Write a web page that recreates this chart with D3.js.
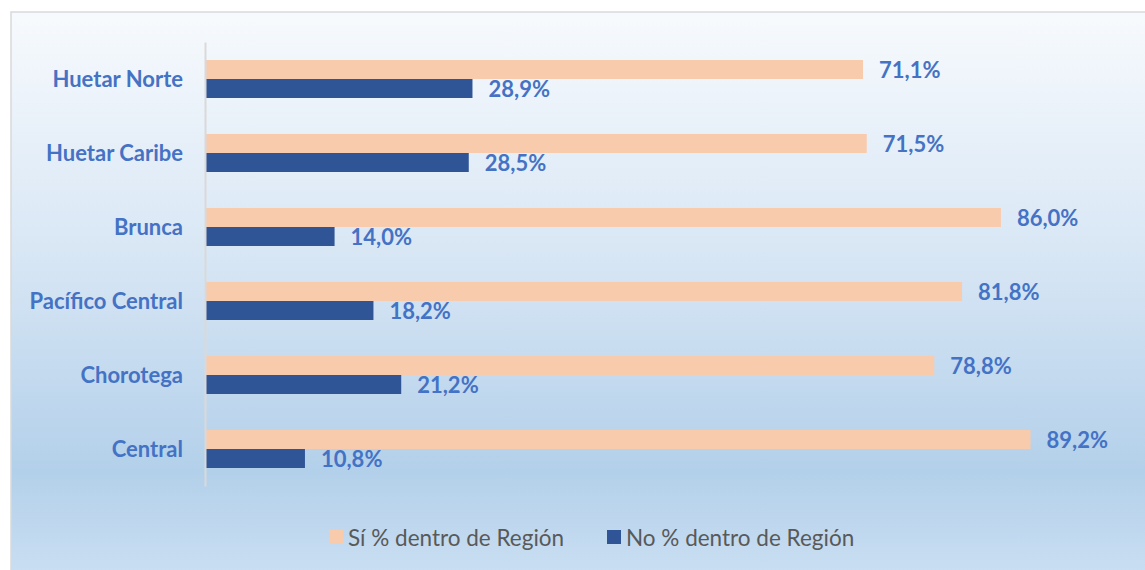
<!DOCTYPE html>
<html><head><meta charset="utf-8">
<script src="https://cdn.jsdelivr.net/npm/d3@7"></script>
<style>html,body{margin:0;padding:0;background:#fff;overflow:hidden}</style>
</head><body>
<svg id="c" width="1145" height="570"></svg>
<script>
const categories = ["Huetar Norte","Huetar Caribe","Brunca","Pacífico Central","Chorotega","Central"];
const siValues = [71.1,71.5,86.0,81.8,78.8,89.2];
const noValues = [28.9,28.5,14.0,18.2,21.2,10.8];
const seriesNames = ["Sí % dentro de Región","No % dentro de Región"];
const colors = ["#F8CBAD","#2F5597"];

const svg = d3.select("#c");
const defs = svg.append("defs");
const g = defs.append("linearGradient").attr("id","bg").attr("gradientUnits","userSpaceOnUse")
  .attr("x1",0).attr("y1",12).attr("x2",0).attr("y2",572);
[[0,"#f7fafd"],[0.42,"#d9e7f5"],[0.82,"#b3d0ea"],[1,"#c9def2"]].forEach(s=>g.append("stop").attr("offset",s[0]).attr("stop-color",s[1]));
svg.append("rect").attr("x",11).attr("y",12).attr("width",1145).attr("height",570)
  .attr("fill","url(#bg)").attr("stroke","#d9d9d9").attr("stroke-width",1.5);

const x0 = 205;
const x = d3.scaleLinear().domain([0,100]).range([x0, x0+925.5]);
const y = d3.scaleBand().domain(categories).range([42,486]);
const inner = d3.scaleBand().domain([0,1]).range([0,38]);
const font = "Lato, 'Open Sans', sans-serif";

const data = categories.map((c,i)=>({c, vals:[siValues[i],noValues[i]]}));
const grp = svg.append("g");
data.forEach(d=>{
  d.vals.forEach((v,k)=>{
    const yy = y(d.c) + (y.bandwidth()-38)/2 + inner(k);
    grp.append("rect").attr("x",x(0)).attr("y",yy).attr("width",x(v)-x(0)).attr("height",inner.bandwidth()).attr("fill",colors[k]);
    grp.append("text").attr("x",x(v)+16).attr("y",yy+inner.bandwidth()/2+1).attr("dy","0.35em")
      .attr("font-family",font).attr("font-weight","bold").attr("font-size",22).attr("fill","#4472C4")
      .text(v.toFixed(1).replace(".",",")+"%");
  });
});

// axis
const yAxis = d3.axisLeft(y).tickSize(0).tickPadding(22);
const ax = svg.append("g").attr("transform",`translate(${x0},0)`).call(yAxis);
ax.select(".domain").attr("stroke","#d9d9d9").attr("stroke-width",2);
ax.selectAll("text").attr("font-family",font).attr("font-weight","bold").attr("font-size",22).attr("fill","#4472C4").attr("dy","0.35em");

// legend
const leg = [{x:329},{x:607}];
leg.forEach((l,i)=>{
  svg.append("rect").attr("x",l.x).attr("y",530).attr("width",14).attr("height",14).attr("fill",colors[i]);
  svg.append("text").attr("x",l.x+19).attr("y",538).attr("dy","0.35em").attr("font-family",font)
    .attr("font-size",22.5).attr("fill","#595959").text(seriesNames[i]);
});
</script>
</body></html>
